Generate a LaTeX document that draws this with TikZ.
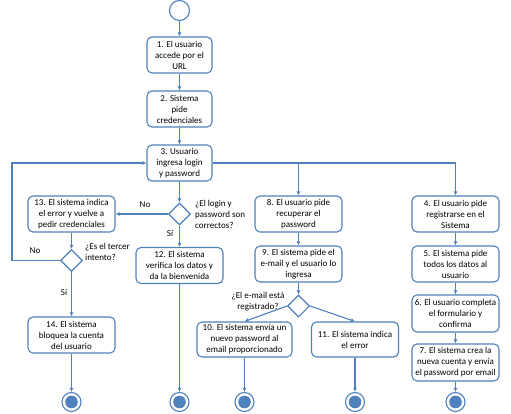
\documentclass[tikz,border=0pt]{standalone}
\usepackage{fontspec}
\setmainfont{Carlito}
\usetikzlibrary{shapes.geometric,arrows.meta}
\definecolor{azul}{HTML}{4F81BD}

\begin{document}
\begin{tikzpicture}[
    x=1pt, y=-1pt,
    every node/.style = {font=\fontsize{9}{11}\selectfont},
    box/.style        = {draw=azul, line width=1.1pt, rounded corners=5pt, fill=white,
                         align=center, minimum height=36pt, inner sep=1pt},
    decision/.style   = {draw=azul, line width=1.1pt, diamond, fill=white,
                         minimum width=22pt, minimum height=22pt, inner sep=0pt},
    startnode/.style  = {draw=azul, line width=1.1pt, circle, minimum size=20pt, inner sep=0pt},
    endnode/.style    = {draw=azul, line width=1.1pt, circle, minimum size=19pt, inner sep=0pt,
                         path picture={\fill[azul] (path picture bounding box.center) circle (6.3pt);}},
    flow/.style       = {draw=azul, line width=1.1pt, -{Latex[length=4pt,width=4pt]}},
    lbl/.style        = {inner sep=0pt},
]
\useasboundingbox (0,0) rectangle (511,414);

% main column
\node [startnode] (ini) at (179.5,10.5) {};
\node [box, minimum width=65pt] (b1) at (179.5,55)  {1. El usuario\\accede por el\\URL};
\node [box, minimum width=65pt] (b2) at (179.5,109) {2. Sistema\\pide\\credenciales};
\node [box, minimum width=65pt] (b3) at (179.5,163) {3. Usuario\\ingresa login\\y password};
\node [decision] (d1) at (179.5,214) {};
\node [box, minimum width=87pt] (b12) at (179.5,265.5) {12. El sistema\\verifica los datos y\\da la bienvenida};

% error branch
\node [box, minimum width=87pt] (b13) at (71.5,214) {13. El sistema indica\\el error y vuelve a\\pedir credenciales};
\node [decision] (d2) at (71.5,260.5) {};
\node [box, minimum width=87pt] (b14) at (71.5,335) {14. El sistema\\bloquea la cuenta\\del usuario};
\coordinate (izq) at (12,163);

% recover password
\node [box, minimum width=87pt] (b8) at (298.5,214) {8. El usuario pide\\recuperar el\\password};
\node [box, minimum width=87pt] (b9) at (298.5,264) {9. El sistema pide el\\e-mail y el usuario lo\\ingresa};
\node [decision] (d3) at (298.5,306) {};
\node [box, minimum width=95pt, minimum height=35pt] (b10) at (244.5,339.5) {10. El sistema envía un\\nuevo password al\\email proporcionado};
\node [box, minimum width=87pt, minimum height=35pt] (b11) at (355,339.5) {11. El sistema indica\\el error};

% register
\node [box, minimum width=87pt] (b4) at (455.5,214) {4. El usuario pide\\registrarse en el\\Sistema};
\node [box, minimum width=87pt] (b5) at (455.5,264) {5. El sistema pide\\todos los datos al\\usuario};
\node [box, minimum width=87pt, minimum height=37pt] (b6) at (455.5,313.5) {6. El usuario completa\\el formulario y\\confirma};
\node [box, minimum width=87pt, minimum height=37pt] (b7) at (455.5,362.5) {7. El sistema crea la\\nueva cuenta y envía\\el password por email};

% final states
\node [endnode] (e1) at (71.5,402)  {};
\node [endnode] (e2) at (179.5,402) {};
\node [endnode] (e3) at (244.5,402) {};
\node [endnode] (e4) at (355,402)   {};
\node [endnode] (e5) at (455.5,402) {};

% labels
\node [lbl] (no1) at (145,205) {No};
\node [lbl] (si1) at (170,233) {Sí};
\node [lbl, anchor=north west, align=left] (q1) at (195,200) {¿El login y\\password son\\correctos?};
\node [lbl, anchor=north west, align=left] (q2) at (85,243) {¿Es el tercer\\intento?};
\node [lbl] (no2) at (35,251) {No};
\node [lbl] (si2) at (64,292) {Sí};
\node [lbl, align=center] (q3) at (258,302) {¿El e-mail está\\registrado?};

% connectors
\draw [flow] (ini) -- (b1);
\draw [flow] (b1) -- (b2);
\draw [flow] (b2) -- (b3);
\draw [flow] (b3) -- (d1);
\draw [flow] (d1.west) -- (b13.east);
\draw [flow] (d1.south) -- (b12.north);
\draw [flow] (b13) -- (d2.north);
\draw [flow] (d2.west) -| (izq) |- (b3.west);
\draw [flow] (d2.south) -- (b14.north);
\draw [flow] (b3.east) -| (b4.north);
\draw [flow] (b8.north |- b3.east) -- (b8.north);
\draw [flow] (b8) -- (b9);
\draw [flow] (b9) -- (d3.north);
\draw [flow] (d3.west) -- (b10.north);
\draw [flow] (d3.east) -- (b11.north);
\draw [flow] (b4) -- (b5);
\draw [flow] (b5) -- (b6);
\draw [flow] (b6) -- (b7);
\draw [flow] (b14) -- (e1);
\draw [flow] (b12) -- (e2);
\draw [flow] (b10) -- (e3);
\draw [flow] (b11) -- (e4);
\draw [flow] (b7) -- (e5);
\end{tikzpicture}
\end{document}
